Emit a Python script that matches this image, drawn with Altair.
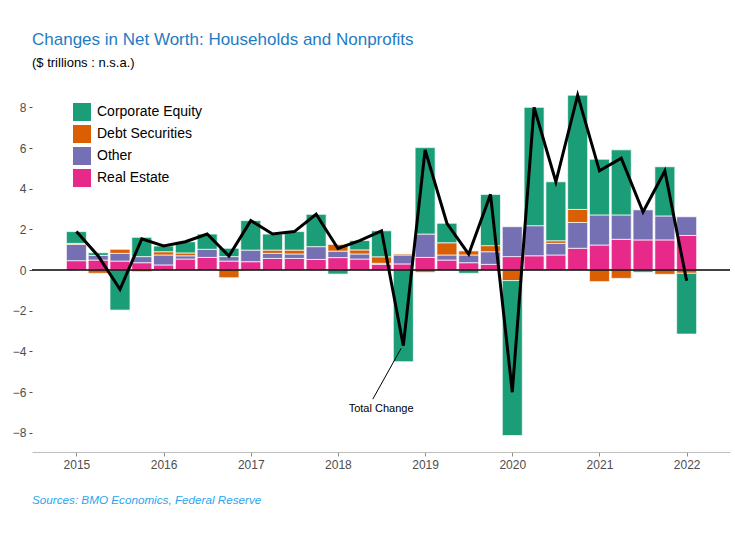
import altair as alt
import pandas as pd

quarters = ["2015Q1", "2015Q2", "2015Q3", "2015Q4",
            "2016Q1", "2016Q2", "2016Q3", "2016Q4",
            "2017Q1", "2017Q2", "2017Q3", "2017Q4",
            "2018Q1", "2018Q2", "2018Q3", "2018Q4",
            "2019Q1", "2019Q2", "2019Q3", "2019Q4",
            "2020Q1", "2020Q2", "2020Q3", "2020Q4",
            "2021Q1", "2021Q2", "2021Q3", "2021Q4",
            "2022Q1"]

real_estate = [0.46, 0.49, 0.44, 0.36, 0.25, 0.54, 0.62, 0.44,
               0.41, 0.57, 0.57, 0.52, 0.61, 0.54, 0.28, 0.30,
               0.62, 0.49, 0.36, 0.28, 0.66, 0.70, 0.74, 1.07,
               1.23, 1.51, 1.48, 1.48, 1.70]
other = [0.80, 0.23, 0.38, 0.30, 0.49, 0.16, 0.40, 0.22,
         0.57, 0.25, 0.22, 0.63, 0.32, 0.25, 0.05, 0.44,
         1.15, 0.25, 0.38, 0.62, 1.47, 1.48, 0.57, 1.27,
         1.48, 1.20, 1.48, 1.18, 0.92]
debt_securities = [0.05, -0.16, 0.20, -0.08, 0.16, 0.14, 0.00, -0.38,
                   0.00, 0.16, 0.19, 0.00, 0.33, 0.20, 0.32, 0.05,
                   -0.11, 0.60, 0.20, 0.30, -0.52, 0.00, 0.13, 0.64,
                   -0.57, -0.41, 0.00, -0.21, -0.16]
corporate_equity = [0.58, 0.13, -1.97, 0.95, 0.28, 0.55, 0.75, 0.41,
                    1.45, 0.79, 0.91, 1.59, -0.20, 0.46, 1.28, -4.51,
                    4.25, 0.96, -0.16, 2.52, -7.62, 5.82, 2.90, 5.62,
                    2.74, 3.20, -0.11, 2.42, -2.99]

categories = ["Corporate Equity", "Debt Securities", "Other", "Real Estate"]
stack_rank = {"Real Estate": 0, "Other": 1, "Debt Securities": 2, "Corporate Equity": 3}
colors = ["#1B9E77", "#D95F02", "#7570B3", "#E7298A"]
year_ticks = [2015, 2016, 2017, 2018, 2019, 2020, 2021, 2022]
y_ticks = [-8, -6, -4, -2, 0, 2, 4, 6, 8]

title_text = "Changes in Net Worth: Households and Nonprofits"
subtitle_text = "($ trillions : n.s.a.)"
caption_text = "Sources: BMO Economics, Federal Reserve"
annotation_label = "Total Change"
annotation_point = [2018.495, -6.85]
annotation_line_t = [2018.40, 2018.725]
annotation_line_v = [-6.35, -3.85]

series = {
    "Real Estate": real_estate,
    "Other": other,
    "Debt Securities": debt_securities,
    "Corporate Equity": corporate_equity,
}

rows = []
for name, vals in series.items():
    for q, v in zip(quarters, vals):
        t = int(q[:4]) + (int(q[5]) - 1) / 4
        rows.append({"quarter": q, "t": t, "series": name, "value": v,
                     "ord": stack_rank[name]})
df = pd.DataFrame(rows)

x_scale = alt.Scale(domain=[2014.548, 2022.44], nice=False, zero=False)
y_scale = alt.Scale(domain=[-8.95, 9.1], nice=False, zero=False)

x_axis = alt.Axis(values=year_ticks, format="d", title=None, grid=False,
                  domainColor="#BDBDBD", domainWidth=1, tickColor="#8C8C8C",
                  tickSize=4, labelColor="#4D4D4D", labelFontSize=12,
                  labelPadding=3)
y_axis = alt.Axis(values=y_ticks, title=None, grid=False,
                  domain=False, tickColor="#4D4D4D", tickSize=3,
                  labelColor="#4D4D4D", labelFontSize=12, labelPadding=3)

bars = alt.Chart(df).transform_filter("datum.value != 0").mark_bar(
    width=20, stroke="white", strokeWidth=0.7
).encode(
    x=alt.X("t:Q", scale=x_scale, axis=x_axis),
    y=alt.Y("value:Q", stack="zero", scale=y_scale, axis=y_axis),
    color=alt.Color("series:N", scale=alt.Scale(domain=categories, range=colors),
                    legend=alt.Legend(title=None, orient="none", legendX=41, legendY=18,
                                      symbolType="square", symbolSize=324,
                                      symbolStrokeWidth=0, labelFontSize=14,
                                      labelColor="black", labelOffset=6,
                                      rowPadding=4, padding=0)),
    order=alt.Order("ord:Q", sort="ascending"),
)

zero_rule = alt.Chart(pd.DataFrame({"z": [0]})).mark_rule(
    color="black", strokeWidth=1.5
).encode(y=alt.Y("z:Q", scale=y_scale, title=None))

total_line = alt.Chart(df).mark_line(color="black", strokeWidth=3).encode(
    x=alt.X("t:Q", scale=x_scale, title=None),
    y=alt.Y("sum(value):Q", scale=y_scale, title=None),
)

ann_line = alt.Chart(pd.DataFrame({"t": annotation_line_t, "v": annotation_line_v})).mark_line(
    color="black", strokeWidth=1
).encode(x=alt.X("t:Q", scale=x_scale, title=None),
         y=alt.Y("v:Q", scale=y_scale, title=None))

ann_text = alt.Chart(pd.DataFrame({"t": [annotation_point[0]], "v": [annotation_point[1]],
                                   "label": [annotation_label]})).mark_text(
    fontSize=11, color="black", align="center", baseline="middle"
).encode(x=alt.X("t:Q", scale=x_scale, title=None),
         y=alt.Y("v:Q", scale=y_scale, title=None), text="label:N")

caption = alt.Chart(pd.DataFrame({"label": [caption_text]})).mark_text(
    fontSize=11.7, fontStyle="italic", color="#2AA5F0", align="left", baseline="middle"
).encode(x=alt.value(0), y=alt.value(415), text="label:N")

chart = alt.layer(bars, zero_rule, total_line, ann_line, ann_text, caption).properties(
    width=698, height=367,
    autosize=alt.AutoSizeParams(type="none"),
    padding={"left": 32, "top": 85, "right": 5, "bottom": 91},
    title=alt.TitleParams(text=title_text, subtitle=subtitle_text, anchor="start",
                          frame="group", fontSize=17, fontWeight="normal",
                          color="#1F7BC4", subtitleColor="black", subtitleFontSize=13,
                          subtitlePadding=8, offset=14),
).configure(font="Liberation Sans").configure_view(stroke=None)

chart.save("out.html", embed_options={"renderer": "svg", "actions": False})
